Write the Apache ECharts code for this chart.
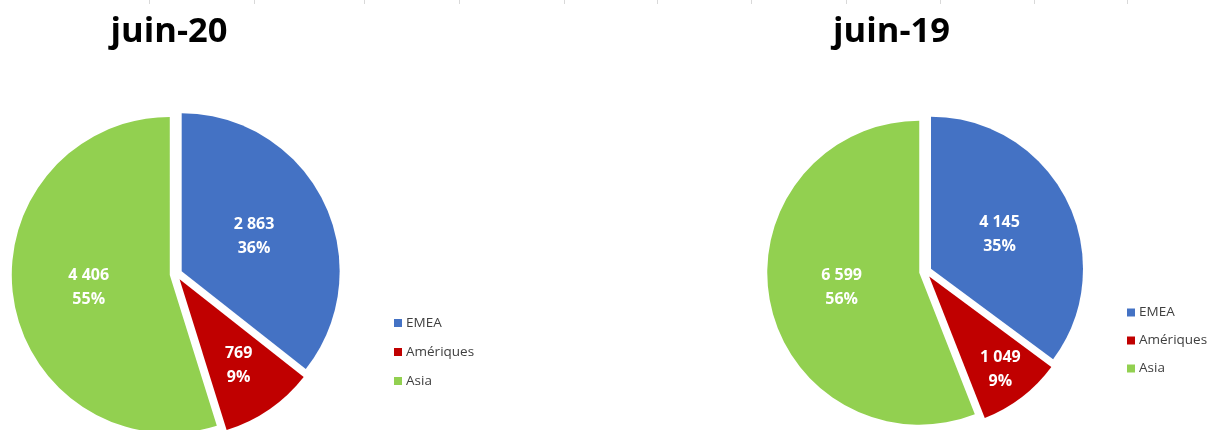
<!DOCTYPE html>
<html>
<head>
<meta charset="utf-8">
<script src="https://cdn.jsdelivr.net/npm/echarts@6/dist/echarts.min.js"></script>
<style>
html,body{margin:0;padding:0;background:#fff;}
#c{width:1210px;height:430px;}
</style>
</head>
<body>
<div id="c"></div>
<script>
// ---- data ----
const categories = ['EMEA', 'Amériques', 'Asia'];
const values20 = [2863, 769, 4406];
const values19 = [4145, 1049, 6599];
const pct20 = [36, 9, 55];
const pct19 = [35, 9, 56];
const titles = ['juin-20', 'juin-19'];
const colors = ['#4472C4', '#C00000', '#92D050'];
const gridTicks = [149, 254, 364, 459, 564, 657, 751, 846, 940, 1034, 1127];

// ---- layout (styles / positions) ----
const layouts = [
  {values: values20, pct: pct20, title: titles[0], cx: 176, cy: 274, r: 158, explode: 6.3,
   labelK: [0.49, 0.64, 0.5], titleX: 169, legendLeft: 394, legendTop: 316, legendGap: 15},
  {values: values19, pct: pct19, title: titles[1], cx: 925.4, cy: 271.5, r: 152, explode: 6.25,
   labelK: [0.485, 0.75, 0.5], titleX: 891.5, legendLeft: 1127, legendTop: 305.5, legendGap: 14}
];

function fmt(v) {
  return String(v).replace(/\B(?=(\d{3})+(?!\d))/g, ' ');
}

const series = [];
const title = [];
const legend = [];

layouts.forEach((L, pi) => {
  const total = L.values.reduce((a, b) => a + b, 0);
  let cum = 0;
  L.values.forEach((v, si) => {
    const a0 = cum / total * 360;
    cum += v;
    const a1 = cum / total * 360;
    const mid = (a0 + a1) / 2 * Math.PI / 180;
    const dx = Math.sin(mid) * L.explode;
    const dy = -Math.cos(mid) * L.explode;
    const center = [L.cx + dx, L.cy + dy];
    const mkData = (labelOnly) => categories.map((name, k) => ({
      name: name,
      value: L.values[k],
      itemStyle: {color: (k === si && !labelOnly) ? colors[k] : 'rgba(0,0,0,0)', borderWidth: 0},
      label: {show: labelOnly && k === si}
    }));
    // slice
    series.push({
      type: 'pie', silent: true, animation: false,
      center: center, radius: [0, L.r],
      startAngle: 90, clockwise: true,
      label: {show: false}, labelLine: {show: false},
      emphasis: {disabled: true},
      data: mkData(false)
    });
    // label carrier
    series.push({
      type: 'pie', silent: true, animation: false,
      center: center, radius: [0, 2 * L.labelK[si] * L.r],
      startAngle: 90, clockwise: true,
      labelLine: {show: false},
      emphasis: {disabled: true},
      label: {
        position: 'inside',
        color: '#ffffff',
        fontFamily: 'Open Sans',
        fontWeight: 'bold',
        fontSize: 16,
        lineHeight: 24,
        formatter: (p) => fmt(L.values[p.dataIndex]) + '\n' + L.pct[p.dataIndex] + '%'
      },
      data: mkData(true)
    });
  });
  title.push({
    text: L.title, left: L.titleX, top: 15, textAlign: 'center', padding: 0,
    textStyle: {fontFamily: 'Open Sans', fontWeight: 'bold', fontSize: 34.5, color: '#000000'}
  });
  legend.push({
    orient: 'vertical', left: L.legendLeft, top: L.legendTop, padding: 0,
    itemWidth: 8, itemHeight: 8, itemGap: L.legendGap, icon: 'rect',
    selectedMode: false,
    textStyle: {fontFamily: 'Open Sans', fontSize: 13.5, color: '#404040', padding: [0, 0, 0, -1]},
    data: categories.map((n, k) => ({name: n, itemStyle: {color: colors[k]}}))
  });
});

const graphic = gridTicks.map(x => ({
  type: 'line', silent: true,
  shape: {x1: x + 0.5, y1: 0, x2: x + 0.5, y2: 4},
  style: {stroke: '#d9d9d9', lineWidth: 1}
}));

const chart = echarts.init(document.getElementById('c'), null, {renderer: 'canvas'});
chart.setOption({
  backgroundColor: '#ffffff',
  animation: false,
  title: title,
  legend: legend,
  graphic: graphic,
  series: series
});
</script>
</body>
</html>
